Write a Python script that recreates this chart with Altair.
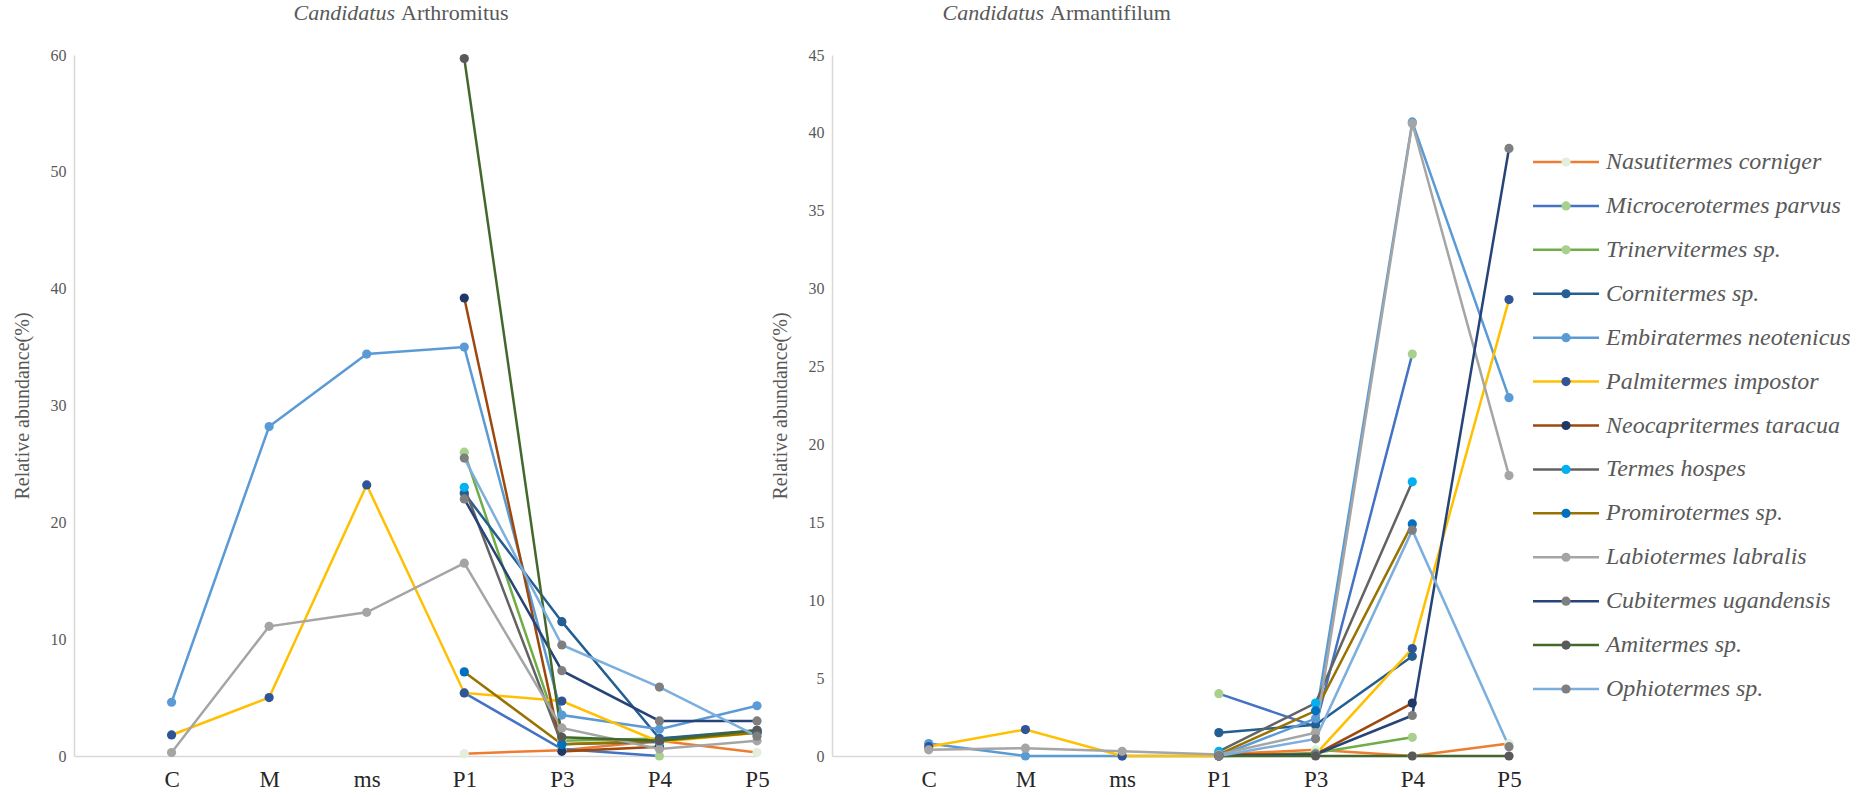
import altair as alt
import pandas as pd

# ---------------- data ----------------
categories = ["C", "M", "ms", "P1", "P3", "P4", "P5"]
x_domain = [""] + categories  # leading empty slot like the original category axis

species = [
    "Nasutitermes corniger",
    "Microcerotermes parvus",
    "Trinervitermes sp.",
    "Cornitermes sp.",
    "Embiratermes neotenicus",
    "Palmitermes impostor",
    "Neocapritermes taracua",
    "Termes hospes",
    "Promirotermes sp.",
    "Labiotermes labralis",
    "Cubitermes ugandensis",
    "Amitermes sp.",
    "Ophiotermes sp.",
]

N = None
# Candidatus Arthromitus, one row per species, columns = categories
arthromitus = [
    [N, N, N, 0.2, 0.5, 1.3, 0.3],
    [N, N, N, 5.4, 0.6, 0.0, N],
    [N, N, N, 26.0, 1.3, 1.5, 2.0],
    [N, N, N, 22.5, 11.5, 1.5, 2.2],
    [4.6, 28.2, 34.4, 35.0, 3.5, 2.3, 4.3],
    [1.8, 5.0, 23.2, 5.4, 4.7, 1.2, 2.0],
    [N, N, N, 39.2, 0.4, 0.8, N],
    [N, N, N, 23.0, 1.0, 1.2, N],
    [N, N, N, 7.2, 1.0, 1.3, 2.0],
    [0.3, 11.1, 12.3, 16.5, 2.4, 0.6, 1.3],
    [N, N, N, 22.0, 7.3, 3.0, 3.0],
    [N, N, N, 59.7, 1.6, 1.3, 2.2],
    [N, N, N, 25.5, 9.5, 5.9, 1.7],
]
# Candidatus Armantifilum
armantifilum = [
    [N, N, N, 0.1, 0.4, 0.0, 0.8],
    [N, N, N, 4.0, 1.9, 25.8, N],
    [N, N, N, 0.0, 0.2, 1.2, N],
    [N, N, N, 1.5, 2.0, 6.4, N],
    [0.8, 0.0, 0.0, 0.0, 2.4, 40.7, 23.0],
    [0.6, 1.7, 0.0, 0.0, 0.1, 6.9, 29.3],
    [N, N, N, 0.1, 0.1, 3.4, N],
    [N, N, N, 0.3, 3.4, 17.6, N],
    [N, N, N, 0.1, 2.9, 14.9, N],
    [0.4, 0.5, 0.3, 0.1, 1.5, 40.6, 18.0],
    [N, N, N, 0.0, 0.1, 2.6, 39.0],
    [N, N, N, 0.0, 0.0, 0.0, 0.0],
    [N, N, N, 0.0, 1.1, 14.5, 0.6],
]

line_colors = ["#ED7D31", "#4472C4", "#70AD47", "#255E91", "#5B9BD5", "#FFC000", "#9E480E",
               "#636363", "#997300", "#A5A5A5", "#264478", "#43682B", "#7CAFDD"]
marker_colors = ["#E2EFDA", "#A9D18E", "#A9D18E", "#255E91", "#5B9BD5", "#2F5597", "#203864",
                 "#00B0F0", "#0070C0", "#A5A5A5", "#7F7F7F", "#595959", "#7F7F7F"]
marker_sizes = [85, 85, 85, 150, 150, 85, 85, 85, 85, 150, 85, 85, 85]


def to_frame(matrix):
    rows = []
    for s_i, name in enumerate(species):
        for c_i, cat in enumerate(categories):
            v = matrix[s_i][c_i]
            if v is not None:
                rows.append({"species": name, "cat": cat, "value": v, "cat_idx": c_i})
    return pd.DataFrame(rows)


FONT = "Liberation Serif"
GRAY = "#595959"

line_scale = alt.Scale(domain=species, range=line_colors)
fill_scale = alt.Scale(domain=species, range=marker_colors)
size_scale = alt.Scale(domain=species, range=marker_sizes)


def panel(matrix, ymax, ystep, w, title_a, title_b, junction, title_gap):
    df = to_frame(matrix)
    x = alt.X("cat:N", scale=alt.Scale(domain=x_domain, type="point", padding=0),
              axis=alt.Axis(title=None, labelAngle=0, ticks=False, grid=False,
                            domainColor="#D9D9D9", domainWidth=1.5,
                            labelFont=FONT, labelFontSize=23, labelColor="#262626",
                            labelPadding=12))
    y = alt.Y("value:Q", scale=alt.Scale(domain=[0, ymax], nice=False, zero=True),
              axis=alt.Axis(title="Relative abundance(%)", values=list(range(0, ymax + 1, ystep)),
                            ticks=False, grid=False, domainColor="#D9D9D9", domainWidth=1.5,
                            labelFont=FONT, labelFontSize=16, labelColor=GRAY, labelPadding=8,
                            titleFont=FONT, titleFontSize=20, titleFontWeight="normal",
                            titleColor=GRAY, titlePadding=18))
    base = alt.Chart(df).encode(x=x, y=y)
    lines = base.mark_line(strokeWidth=2.5).encode(
        color=alt.Color("species:N", scale=line_scale, legend=None),
        detail="species:N",
        order=alt.Order("cat_idx:Q"),
    )
    points = base.mark_circle(opacity=1).encode(
        fill=alt.Fill("species:N", scale=fill_scale, legend=None),
        size=alt.Size("species:N", scale=size_scale, legend=None),
    )
    t_df = pd.DataFrame({"a": [title_a], "b": [title_b]})
    ta = alt.Chart(t_df).mark_text(font=FONT, fontSize=22, fontStyle="italic", color=GRAY,
                                   align="right", baseline="middle").encode(
        text="a:N", x=alt.value(junction - title_gap), y=alt.value(-42))
    tb = alt.Chart(t_df).mark_text(font=FONT, fontSize=22, color=GRAY,
                                   align="left", baseline="middle").encode(
        text="b:N", x=alt.value(junction + title_gap), y=alt.value(-42))
    return alt.layer(lines, points, ta, tb).properties(width=w, height=701)


left = panel(arthromitus, 60, 10, 683, "Candidatus", "Arthromitus", 324, 3)
right = panel(armantifilum, 45, 5, 677, "Candidatus", "Armantifilum", 215, 3)

# ---------------- legend panel ----------------
leg_df = pd.DataFrame({"species": species})
leg_y = alt.Y("species:N",
              scale=alt.Scale(domain=species, type="point", range=[107, 634], padding=0),
              axis=None)
leg_lines = alt.Chart(leg_df).mark_rule(strokeWidth=2.5).encode(
    y=leg_y, x=alt.value(-51), x2=alt.value(15),
    color=alt.Color("species:N", scale=line_scale, legend=None))
leg_pts = alt.Chart(leg_df).mark_circle(opacity=1).encode(
    y=leg_y, x=alt.value(-18),
    fill=alt.Fill("species:N", scale=fill_scale, legend=None),
    size=alt.Size("species:N", scale=size_scale, legend=None))
leg_txt = alt.Chart(leg_df).mark_text(font=FONT, fontSize=24, fontStyle="italic", color=GRAY,
                                      align="left", baseline="middle").encode(
    y=leg_y, x=alt.value(22), text="species:N")
legend = alt.layer(leg_lines, leg_pts, leg_txt).properties(width=250, height=701)

chart = alt.hconcat(left, right, legend, spacing=75, bounds="flush").resolve_scale(
    color="shared", fill="shared", size="shared"
).properties(
    padding={"left": 12, "top": 2, "right": 0, "bottom": 0}
).configure(background="white").configure_view(stroke=None, strokeWidth=0)

chart.save("out.html", embed_options={"renderer": "svg", "actions": False})
